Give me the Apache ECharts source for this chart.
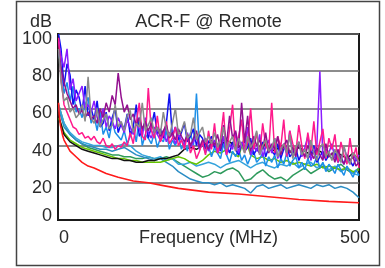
<!DOCTYPE html>
<html>
<head>
<meta charset="utf-8">
<script src="https://cdn.jsdelivr.net/npm/echarts@6/dist/echarts.min.js"></script>
<style>
  html, body { margin: 0; padding: 0; background: #fff; }
  #chart { width: 385px; height: 268px; }
</style>
</head>
<body>
<div id="chart"></div>
<script>
// x positions (MHz)
const freq5 = [1, 5, 10, 15, 20, 25, 30, 35, 40, 45, 50,
  55, 60, 65, 70, 75, 80, 85, 90, 95, 100,
  105, 110, 115, 120, 125, 130, 135, 140, 145, 150,
  155, 160, 165, 170, 175, 180, 185, 190, 195, 200,
  205, 210, 215, 220, 225, 230, 235, 240, 245, 250,
  255, 260, 265, 270, 275, 280, 285, 290, 295, 300,
  305, 310, 315, 320, 325, 330, 335, 340, 345, 350,
  355, 360, 365, 370, 375, 380, 385, 390, 395, 400,
  405, 410, 415, 420, 425, 430, 435, 440, 445, 450,
  455, 460, 465, 470, 475, 480, 485, 490, 495, 500]
const freq10 = [1, 10, 20, 30, 40, 50, 60, 70, 80, 90, 100,
  110, 120, 130, 140, 150, 160, 170, 180, 190, 200,
  210, 220, 230, 240, 250, 260, 270, 280, 290, 300,
  310, 320, 330, 340, 350, 360, 370, 380, 390, 400,
  410, 420, 430, 440, 450, 460, 470, 480, 490, 500]
const limitFreq = [1, 2, 4, 6, 8, 10, 15, 20, 30, 40, 50, 60, 80, 100, 125, 150, 175, 200, 250, 300, 350, 400, 450, 500]

// limit line (red)
const limitVals = [63, 57, 51, 48, 45, 43, 40, 37, 34, 31, 29, 28, 25, 23, 21, 20, 18.5, 17, 15, 14, 12.5, 11, 10, 9.3]

// noisy pairs, sampled every 5 MHz
const grayVals = [92,
  74, 64, 66, 58, 60, 55, 57, 62, 53, 77,
  55, 52, 60, 50, 54, 57, 49, 51, 62, 50,
  53, 48, 56, 59, 47, 52, 50, 63, 48, 51,
  55, 47, 50, 46, 58, 49, 45, 52, 60, 46,
  48, 53, 44, 46, 55, 43, 47, 50, 42, 45,
  41, 47, 39, 43, 50, 38, 42, 45, 37, 44,
  40, 36, 45, 39, 42, 48, 35, 40, 43, 37,
  39, 44, 34, 38, 41, 36, 46, 33, 39, 42,
  35, 38, 33, 43, 36, 32, 39, 41, 34, 37,
  32, 38, 35, 31, 40, 33, 30, 36, 34, 31]
const blueVals = [100,
  92, 72, 84, 78, 62, 70, 66, 58, 72, 56,
  60, 54, 64, 50, 52, 58, 48, 55, 60, 47,
  52, 49, 57, 46, 50, 62, 45, 48, 53, 44,
  50, 58, 46, 49, 44, 52, 68, 45, 50, 43,
  47, 52, 42, 45, 49, 40, 46, 44, 38, 42,
  45, 39, 41, 37, 44, 40, 36, 42, 38, 35,
  41, 37, 39, 44, 35, 38, 36, 42, 34, 39,
  37, 35, 41, 33, 38, 40, 34, 36, 39, 32,
  36, 38, 33, 35, 40, 31, 34, 37, 32, 35,
  33, 36, 31, 34, 30, 35, 32, 29, 33, 30]
const violetVals = [96,
  88, 82, 92, 70, 76, 64, 68, 72, 60, 62,
  58, 64, 55, 52, 60, 50, 56, 53, 49, 55,
  51, 47, 54, 50, 46, 52, 49, 45, 55, 47,
  44, 50, 46, 43, 48, 42, 47, 45, 41, 46,
  43, 40, 47, 39, 42, 45, 38, 41, 44, 37,
  40, 43, 36, 39, 45, 35, 41, 38, 47, 36,
  42, 39, 50, 35, 40, 37, 46, 34, 39, 43,
  36, 44, 33, 38, 41, 35, 48, 34, 37, 42,
  34, 39, 45, 32, 37, 40, 80, 33, 38, 36,
  41, 33, 37, 31, 39, 34, 30, 36, 32, 35]
const plumVals = [92,
  82, 74, 68, 64, 60, 62, 57, 59, 55, 58,
  54, 56, 52, 60, 55, 63, 58, 67, 62, 79,
  66, 58, 62, 54, 57, 51, 55, 49, 53, 48,
  52, 47, 50, 45, 48, 51, 44, 47, 43, 49,
  45, 42, 46, 40, 44, 48, 39, 43, 41, 38,
  43, 40, 46, 38, 51, 41, 56, 44, 48, 39,
  63, 42, 56, 37, 45, 40, 43, 38, 47, 36,
  41, 38, 45, 35, 40, 43, 36, 39, 34, 42,
  37, 34, 40, 36, 33, 39, 35, 32, 41, 34,
  36, 31, 38, 33, 30, 35, 32, 34, 29, 31]
const pinkVals = [98,
  76, 62, 58, 54, 50, 49, 46, 47, 44, 45,
  43, 45, 42, 41, 44, 40, 39, 41, 38, 40,
  39, 42, 40, 47, 41, 52, 63, 45, 43, 71,
  48, 44, 56, 42, 46, 53, 41, 44, 50, 40,
  43, 38, 46, 36, 40, 33, 37, 42, 35, 48,
  38, 52, 36, 44, 58, 35, 49, 62, 37, 45,
  54, 36, 42, 60, 38, 47, 35, 52, 40, 37,
  63, 36, 45, 39, 54, 34, 48, 41, 36, 51,
  40, 33, 47, 37, 53, 35, 42, 49, 33, 44,
  38, 46, 31, 42, 35, 30, 44, 33, 39, 28]
const skyVals = [90,
  82, 68, 74, 64, 72, 58, 60, 55, 62, 66,
  52, 56, 48, 58, 46, 50, 44, 53, 47, 45,
  43, 48, 41, 45, 50, 42, 55, 40, 46, 44,
  41, 47, 39, 44, 42, 48, 38, 43, 40, 45,
  38, 42, 37, 47, 40, 68, 38, 41, 36, 40,
  34, 39, 36, 33, 41, 35, 31, 37, 34, 38,
  32, 35, 30, 34, 37, 31, 33, 36, 29, 34,
  31, 35, 28, 33, 30, 36, 29, 32, 34, 28,
  31, 27, 33, 29, 30, 34, 28, 31, 26, 30,
  28, 25, 30, 27, 24, 29, 26, 23, 27, 24]

// quieter pairs, sampled every 10 MHz
const limeVals = [55,
  47, 43, 41, 39, 38, 37, 36, 35, 34, 33,
  33, 32, 32, 31, 31, 31, 31, 32, 33, 34,
  33, 31, 30, 32, 35, 37, 36, 38, 36, 34,
  45, 35, 33, 34, 32, 33, 31, 32, 30, 31,
  30, 29, 30, 28, 29, 28, 27, 28, 26, 27]
const blackVals = [56,
  46, 42, 40, 38, 37, 36, 35, 34, 33, 33,
  32, 32, 31, 31, 32, 32, 33, 33, 34, 35,
  38, 39, 38, 40, 42, 41, 40, 43, 41, 39,
  42, 40, 38, 41, 39, 37, 40, 38, 36, 39,
  37, 35, 38, 36, 34, 37, 35, 33, 36, 32]
const greenVals = [62,
  52, 46, 43, 41, 39, 38, 37, 36, 35, 35,
  34, 34, 33, 33, 34, 33, 33, 34, 33, 31,
  29, 27, 25, 23, 24, 26, 25, 27, 28, 26,
  21, 22, 25, 27, 24, 22, 23, 21, 24, 26,
  28, 25, 27, 29, 26, 28, 30, 27, 25, 28]
const steelVals = [62,
  52, 47, 44, 42, 41, 40, 40, 39, 39, 40,
  41, 40, 37, 35, 34, 33, 34, 32, 33, 30,
  30, 31, 29, 30, 31, 30, 28, 30, 31, 32,
  30, 28, 30, 31, 29, 28, 30, 29, 31, 28,
  30, 31, 28, 30, 27, 29, 26, 28, 25, 24]
const ceruleanVals = [60,
  50, 46, 43, 41, 40, 39, 38, 38, 37, 38,
  39, 37, 35, 34, 33, 32, 33, 31, 29, 26,
  24, 22, 21, 20, 20, 19, 20, 18, 19, 18,
  17, 14.5, 18, 19, 17, 18, 19, 17, 18, 19,
  18, 17, 19, 18, 19, 17, 18, 17, 15, 12]

const xTicks = [0, 500]
const yTicks = [0, 20, 40, 60, 80, 100]

const FONT = '"Liberation Sans", Arial, sans-serif'
const TEXT = '#2b2b2b'

const pairs = (xs, ys) => xs.map((x, i) => [x, ys[i]])
const line = (name, xs, ys, color, width) => ({
  name: name,
  type: 'line',
  data: pairs(xs, ys),
  symbol: 'none',
  lineStyle: {color: color, width: width || 1.5},
  itemStyle: {color: color},
  silent: true
})

const chart = echarts.init(document.getElementById('chart'))
const option = {
  animation: false,
  backgroundColor: '#fff',
  textStyle: {fontFamily: FONT},
  grid: {
    left: 58, right: 26, top: 34, bottom: 48,
    outerBoundsMode: 'none',
    show: true, borderColor: '#1a1a1a', borderWidth: 2
  },
  xAxis: {
    type: 'value',
    min: xTicks[0], max: xTicks[1], interval: xTicks[1] - xTicks[0],
    name: 'Frequency (MHz)',
    nameLocation: 'middle',
    nameGap: 9,
    nameMoveOverlap: false,
    nameTextStyle: {fontSize: 18, color: TEXT, fontFamily: FONT, verticalAlign: 'top'},
    axisLine: {show: true, lineStyle: {color: '#1a1a1a', width: 2}},
    axisTick: {show: false},
    splitLine: {show: false},
    axisLabel: {
      margin: 9,
      formatter: v => (v === 0 ? '{a|' + v + '}' : '{b|' + v + '}'),
      rich: {
        a: {fontSize: 18, color: TEXT, fontFamily: FONT, padding: [0, 0, 0, 12]},
        b: {fontSize: 18, color: TEXT, fontFamily: FONT, padding: [0, 8, 0, 0]}
      }
    }
  },
  yAxis: {
    type: 'value',
    min: yTicks[0], max: yTicks[yTicks.length - 1], interval: yTicks[1] - yTicks[0],
    name: 'dB',
    nameLocation: 'end',
    nameGap: 3,
    nameMoveOverlap: false,
    nameTextStyle: {fontSize: 18, color: TEXT, fontFamily: FONT, align: 'right', verticalAlign: 'bottom', padding: [0, 6, 0, 0]},
    axisLine: {show: true, lineStyle: {color: '#1a1a1a', width: 2}},
    axisTick: {show: false},
    splitLine: {show: true, lineStyle: {color: '#666', width: 1.5}},
    axisLabel: {
      margin: 6,
      formatter: v => (v === 0 ? '{z|' + v + '}' : '{n|' + v + '}'),
      rich: {
        z: {fontSize: 18, color: TEXT, fontFamily: FONT, padding: [0, 0, 8, 0]},
        n: {fontSize: 18, color: TEXT, fontFamily: FONT, padding: [10, 0, 0, 0]}
      }
    }
  },
  graphic: [
    {
      type: 'rect',
      z: -10,
      shape: {x: 16.5, y: 1.5, width: 363, height: 264},
      style: {fill: 'none', stroke: '#444', lineWidth: 1.5}
    },
    {
      type: 'text',
      x: 208.5, y: 22,
      style: {text: 'ACR-F @ Remote', fill: TEXT, font: '18px ' + FONT, align: 'center', verticalAlign: 'middle'}
    }
  ],
  series: [
    line('seagreen', freq10, greenVals, '#2e9a5c'),
    line('cerulean', freq10, ceruleanVals, '#2a8cc4'),
    line('steel', freq10, steelVals, '#35a3dc'),
    line('lime', freq10, limeVals, '#66c400'),
    line('black', freq10, blackVals, '#111111'),
    line('sky', freq5, skyVals, '#1c8fe8'),
    line('blue', freq5, blueVals, '#1010f0'),
    line('violet', freq5, violetVals, '#8a1cff'),
    line('pink', freq5, pinkVals, '#ff1a8c'),
    line('plum', freq5, plumVals, '#93108f'),
    line('gray', freq5, grayVals, '#8a8a8a'),
    line('limit', limitFreq, limitVals, '#ff1a1a', 1.6)
  ]
}
chart.setOption(option)
</script>
</body>
</html>
